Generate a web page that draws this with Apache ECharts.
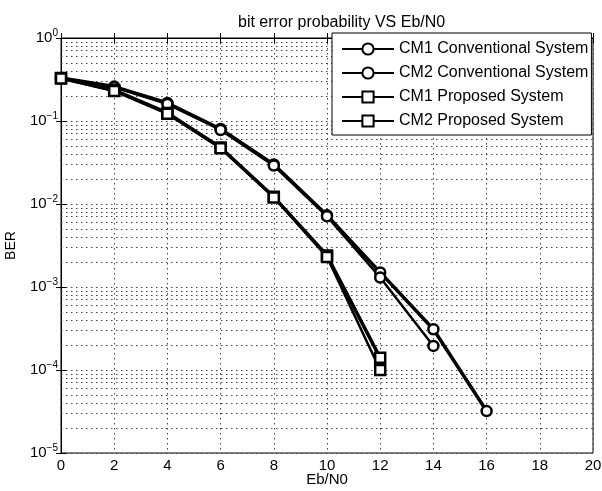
<!DOCTYPE html>
<html lang="en">
<head>
    <meta charset="UTF-8">
    <title>BER vs Eb/N0</title>
    <script src="https://cdn.jsdelivr.net/npm/echarts@6/dist/echarts.min.js"></script>
    <style>
        body { margin: 0; background: #fff; }
    </style>
</head>
<body>
<div id="main" style="width:602px;height:491px;"></div>
<script type="text/javascript">
    // Eb/N0 (dB)
    var ebn0 = [0, 2, 4, 6, 8, 10, 12, 14, 16];
    // BER values
    var cm1Conv = [0.33, 0.26, 0.165, 0.080, 0.030, 0.0073, 0.0015, 3.1e-4, 3.2e-5];
    var cm2Conv = [0.325, 0.255, 0.16, 0.078, 0.029, 0.0071, 0.0013, 1.95e-4];
    var cm1Prop = [0.33, 0.235, 0.125, 0.048, 0.0122, 0.0024, 1.4e-4];
    var cm2Prop = [0.325, 0.23, 0.122, 0.047, 0.012, 0.0023, 1.0e-4];
    var seriesNames = ['CM1 Conventional System', 'CM2 Conventional System', 'CM1 Proposed System', 'CM2 Proposed System'];

    var font = 'Liberation Sans, Arial, sans-serif';
    var dotted = { type: [1.5, 3.5], color: '#444', width: 1 };

    function pairs(ys) {
        return ys.map(function (y, i) { return [ebn0[i], y]; });
    }

    // minor log grid lines (2..9 of each decade), placed on a hidden linear axis of exponents
    var minorLines = [];
    for (var e = -5; e < 0; e++) {
        for (var m = 2; m <= 9; m++) {
            minorLines.push({ yAxis: e + Math.log(m) / Math.LN10 });
        }
    }

    function makeSeries(name, ys, symbol, lw) {
        return {
            name: name,
            type: 'line',
            data: pairs(ys),
            symbol: symbol,
            symbolSize: 10,
            showSymbol: true,
            lineStyle: { color: '#000', width: lw },
            itemStyle: { color: '#fff', borderColor: '#000', borderWidth: 2.5 },
            z: 5
        };
    }

    var myEcharts = echarts.init(document.getElementById('main'));
    var option = {
        animation: false,
        backgroundColor: '#fff',
        title: {
            text: 'bit error probability VS Eb/N0',
            left: 233,
            top: 10,
            textStyle: { fontFamily: font, fontSize: 16, fontWeight: 'normal', color: '#000' }
        },
        legend: {
            orient: 'vertical',
            left: 332,
            top: 33,
            z: 20,
            padding: [8, 3, 6, 9],
            itemGap: 8,
            itemWidth: 52,
            itemHeight: 14,
            backgroundColor: '#fff',
            borderColor: '#000',
            borderWidth: 1,
            borderRadius: 0,
            data: seriesNames,
            textStyle: { fontFamily: font, fontSize: 16, color: '#000' }
        },
        grid: {
            left: 61,
            right: 9,
            top: 38,
            bottom: 38,
            outerBoundsMode: 'none',
            containLabel: false,
            show: true,
            borderColor: '#000',
            borderWidth: 1,
            backgroundColor: '#fff'
        },
        xAxis: [{
            type: 'value',
            min: 0,
            max: 20,
            interval: 2,
            name: 'Eb/N0',
            nameLocation: 'middle',
            nameMoveOverlap: false,
            nameGap: 19,
            nameTextStyle: { fontFamily: font, fontSize: 15, color: '#000' },
            axisLine: { show: true, lineStyle: { color: '#000' } },
            axisTick: { inside: true, length: 5, lineStyle: { color: '#000' } },
            axisLabel: { fontFamily: font, fontSize: 15, color: '#000', margin: 5 },
            splitLine: { show: true, lineStyle: dotted }
        }, {
            type: 'value',
            position: 'top',
            min: 0,
            max: 20,
            interval: 2,
            axisLine: { show: false },
            axisTick: { inside: true, length: 5, lineStyle: { color: '#000' } },
            axisLabel: { show: false },
            splitLine: { show: false }
        }],
        yAxis: [{
            type: 'log',
            logBase: 10,
            min: 1e-5,
            max: 1,
            splitNumber: 5,
            name: 'BER',
            nameLocation: 'middle',
            nameGap: 43,
            nameTextStyle: { fontFamily: font, fontSize: 14, color: '#000' },
            axisLine: { show: true, lineStyle: { color: '#000' } },
            axisTick: { inside: true, length: 5, lineStyle: { color: '#000' } },
            axisLabel: {
                margin: 3,
                formatter: function (v) {
                    var ex = Math.round(Math.log(v) / Math.LN10);
                    return '{b|10}{s|' + (ex < 0 ? '\u2212' + (-ex) : ex) + '}';
                },
                rich: {
                    b: { fontFamily: font, fontSize: 15, color: '#000', lineHeight: 20, verticalAlign: 'middle' },
                    s: { fontFamily: font, fontSize: 10, color: '#000', lineHeight: 12, verticalAlign: 'top' }
                }
            },
            splitLine: { show: true, lineStyle: dotted }
        }, {
            type: 'log',
            logBase: 10,
            min: 1e-5,
            max: 1,
            splitNumber: 5,
            position: 'right',
            axisLine: { show: false },
            axisTick: { inside: true, length: 5, lineStyle: { color: '#000' } },
            axisLabel: { show: false },
            splitLine: { show: false }
        }, {
            type: 'value',
            min: -5,
            max: 0,
            show: false
        }],
        series: [
            makeSeries(seriesNames[0], cm1Conv, 'circle', 3.5),
            makeSeries(seriesNames[1], cm2Conv, 'circle', 2.5),
            makeSeries(seriesNames[2], cm1Prop, 'rect', 3.5),
            makeSeries(seriesNames[3], cm2Prop, 'rect', 2.5),
            {
                type: 'line',
                yAxisIndex: 2,
                data: [],
                silent: true,
                markLine: {
                    silent: true,
                    symbol: 'none',
                    animation: false,
                    label: { show: false },
                    lineStyle: dotted,
                    data: minorLines
                },
                z: 1
            }
        ]
    };
    myEcharts.setOption(option);
</script>
</body>
</html>
